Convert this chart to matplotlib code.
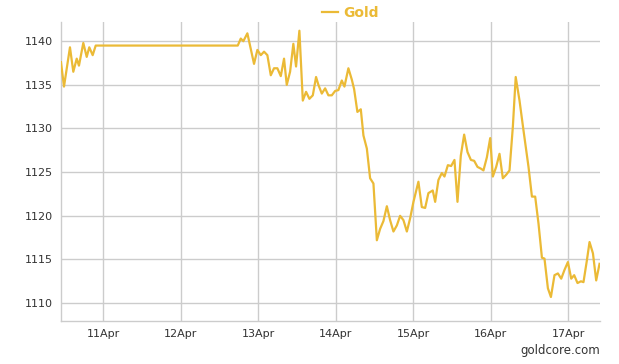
import numpy as np
import matplotlib
matplotlib.use('Agg')
import matplotlib.pyplot as plt

# day of April (fractional) and gold price
days = [10.458, 10.497, 10.574, 10.617, 10.661, 10.690, 10.746, 10.790, 10.823, 10.867, 10.906,
        12.738, 12.777, 12.810, 12.862, 12.948, 12.991, 13.035, 13.077, 13.120, 13.164, 13.206,
        13.249, 13.293, 13.335, 13.370, 13.413, 13.455, 13.490, 13.533, 13.577, 13.619, 13.662,
        13.706, 13.748, 13.778, 13.822, 13.865, 13.907, 13.951, 13.994, 14.036, 14.080, 14.114,
        14.165, 14.209, 14.239, 14.281, 14.325, 14.359, 14.403, 14.445, 14.488, 14.532, 14.574,
        14.617, 14.661, 14.703, 14.746, 14.790, 14.832, 14.875, 14.919, 14.961, 15.004, 15.068,
        15.112, 15.155, 15.197, 15.253, 15.284, 15.326, 15.370, 15.404, 15.448, 15.490, 15.533,
        15.572, 15.615, 15.658, 15.701, 15.745, 15.787, 15.830, 15.874, 15.907, 15.951, 15.994,
        16.028, 16.071, 16.114, 16.157, 16.200, 16.243, 16.286, 16.323, 16.372, 16.423, 16.488,
        16.532, 16.574, 16.617, 16.661, 16.694, 16.738, 16.777, 16.823, 16.867, 16.910, 16.952,
        16.996, 17.039, 17.077, 17.120, 17.164, 17.197, 17.241, 17.275, 17.319, 17.361, 17.404]
gold = [1137.6, 1134.8, 1139.3, 1136.5, 1138.0, 1137.2, 1139.8, 1138.2, 1139.3, 1138.4, 1139.5,
        1139.5, 1140.3, 1140.0, 1140.9, 1137.4, 1139.0, 1138.4, 1138.8, 1138.4, 1136.1, 1136.9,
        1136.9, 1136.0, 1138.0, 1135.0, 1136.5, 1139.7, 1137.1, 1141.2, 1133.2, 1134.2, 1133.4,
        1133.8, 1135.9, 1135.0, 1134.0, 1134.6, 1133.8, 1133.8, 1134.3, 1134.4, 1135.5, 1134.8,
        1136.9, 1135.6, 1134.5, 1131.9, 1132.2, 1129.2, 1127.7, 1124.3, 1123.7, 1117.2, 1118.5,
        1119.4, 1121.1, 1119.5, 1118.2, 1118.9, 1120.0, 1119.5, 1118.2, 1119.7, 1121.6, 1123.9,
        1121.0, 1120.9, 1122.6, 1122.9, 1121.6, 1124.1, 1124.9, 1124.5, 1125.8, 1125.7, 1126.4,
        1121.6, 1126.9, 1129.3, 1127.3, 1126.4, 1126.3, 1125.6, 1125.4, 1125.2, 1126.7, 1128.9,
        1124.5, 1125.6, 1127.1, 1124.3, 1124.7, 1125.2, 1130.2, 1135.9, 1133.2, 1129.8, 1125.6,
        1122.2, 1122.2, 1119.1, 1115.2, 1115.1, 1111.7, 1110.7, 1113.2, 1113.4, 1112.8, 1113.8,
        1114.7, 1112.8, 1113.2, 1112.3, 1112.5, 1112.4, 1114.9, 1117.0, 1115.7, 1112.6, 1114.5]

tick_days = [11, 12, 13, 14, 15, 16, 17]
tick_labels = ['11Apr', '12Apr', '13Apr', '14Apr', '15Apr', '16Apr', '17Apr']
y_ticks = [1110, 1115, 1120, 1125, 1130, 1135, 1140]

gold_col = '#EBBA36'
grid_col = '#CCCCCC'
text_col = '#333333'

fig = plt.figure(figsize=(6.19, 3.64), dpi=100)
ax = fig.add_axes([0.0985, 0.1181, 0.8708, 0.8215])

ax.plot(days, gold, color=gold_col, lw=1.6, solid_joinstyle='round', zorder=3, label='Gold')

ax.set_xlim(10.458, 17.41)
ax.set_ylim(1107.95, 1142.2)
ax.set_xticks(tick_days)
ax.set_xticklabels(tick_labels)
ax.set_yticks(y_ticks)
ax.grid(True, color=grid_col, lw=1.0)
ax.tick_params(length=0, labelsize=8, colors=text_col, pad=6)
for s in ['top', 'right']:
    ax.spines[s].set_visible(False)
for s in ['left', 'bottom']:
    ax.spines[s].set_color(grid_col)
    ax.spines[s].set_linewidth(1.0)

leg = ax.legend(loc='center', bbox_to_anchor=(0.566, 0.964), bbox_transform=fig.transFigure,
                frameon=False, handlelength=1.15, handletextpad=0.35, borderpad=0, borderaxespad=0,
                prop={'weight': 'bold', 'size': 10})
for t in leg.get_texts():
    t.set_color(gold_col)

fig.text(0.969, 0.018, 'goldcore.com', ha='right', va='bottom', fontsize=8.5, color=text_col)

fig.savefig('out.png', dpi=100)
